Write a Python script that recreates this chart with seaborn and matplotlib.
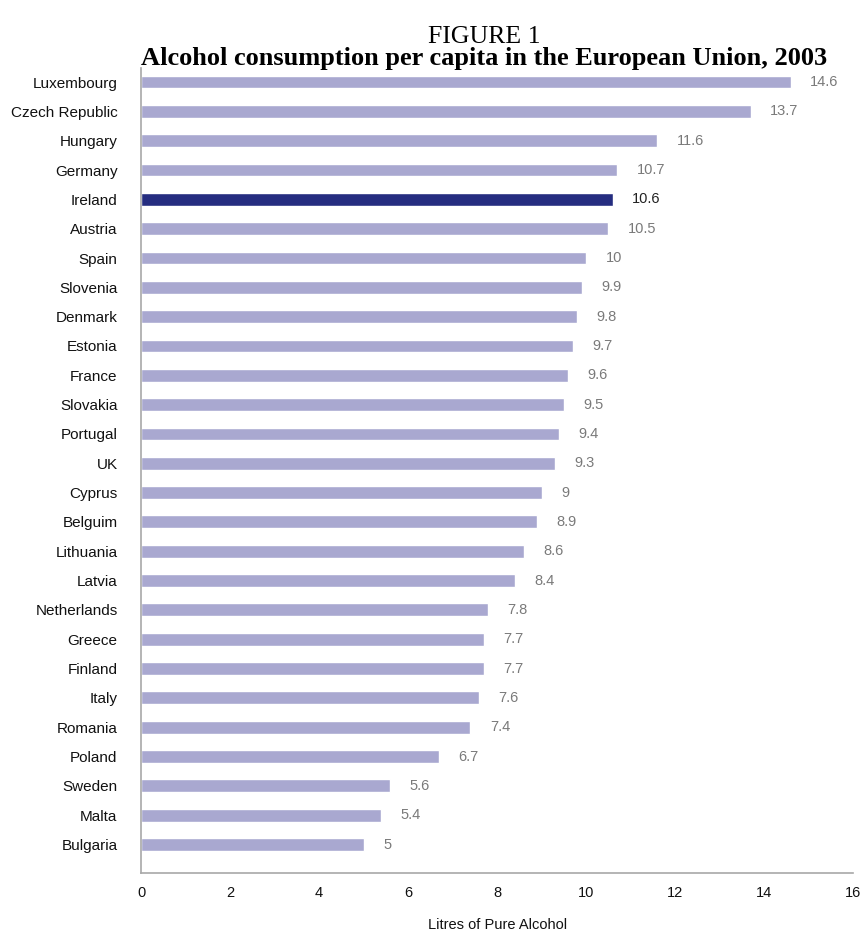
import matplotlib
matplotlib.use("Agg")
import matplotlib.pyplot as plt
import seaborn as sns

# data
countries = ["Luxembourg", "Czech Republic", "Hungary", "Germany", "Ireland", "Austria",
             "Spain", "Slovenia", "Denmark", "Estonia", "France", "Slovakia", "Portugal",
             "UK", "Cyprus", "Belguim", "Lithuania", "Latvia", "Netherlands", "Greece",
             "Finland", "Italy", "Romania", "Poland", "Sweden", "Malta", "Bulgaria"]
litres = [14.6, 13.7, 11.6, 10.7, 10.6, 10.5, 10, 9.9, 9.8, 9.7, 9.6, 9.5, 9.4,
          9.3, 9, 8.9, 8.6, 8.4, 7.8, 7.7, 7.7, 7.6, 7.4, 6.7, 5.6, 5.4, 5]
highlight = "Ireland"
x_ticks = [0, 2, 4, 6, 8, 10, 12, 14, 16]

light = "#a9a8d0"
dark = "#252d80"

sns.set_style("white")
plt.rcParams['font.family'] = ['Liberation Sans', 'DejaVu Sans']

fig = plt.figure(figsize=(8.66, 9.31), dpi=100)
ax = fig.add_axes([0.163, 0.062, 0.822, 0.865])

palette = {c: (dark if c == highlight else light) for c in countries}
sns.barplot(x=litres, y=countries, hue=countries, palette=palette, legend=False,
            orient="h", width=0.44, saturation=1, ax=ax)

# value labels at bar ends
for i, (c, v) in enumerate(zip(countries, litres)):
    ax.annotate(f"{v:g}", xy=(v, i), xytext=(14, 0), textcoords="offset points",
                va="center", ha="left", fontsize=10.5,
                color="#222222" if c == highlight else "#7a7a7a")

ax.set_xlim(0, 16)
ax.set_ylim(len(countries) - 0.02, -0.48)
ax.set_xticks(x_ticks)
ax.set_xticklabels([str(t) for t in x_ticks])
ax.tick_params(axis="x", direction="in", length=7, width=1, color="#a0a0a0",
               pad=9, labelsize=10.5, labelcolor="#111111")
ax.tick_params(axis="y", length=0, pad=17, labelsize=11, labelcolor="#111111")
ax.set_xlabel("Litres of Pure Alcohol", fontsize=10.5, labelpad=13, color="#111111")
ax.set_ylabel("")

for side in ["top", "right"]:
    ax.spines[side].set_visible(False)
for side in ["left", "bottom"]:
    ax.spines[side].set_color("#a8a8a8")
    ax.spines[side].set_linewidth(1.2)

fig.text(0.559, 1 - 37 / 931, "FIGURE 1", ha="center", va="center",
         fontsize=18.5, family="Liberation Serif", color="black")
fig.text(0.559, 1 - 58 / 931, "Alcohol consumption per capita in the European Union, 2003",
         ha="center", va="center", fontsize=19, fontweight="bold", family="Liberation Serif",
         color="black")

fig.savefig("out.png", dpi=100)
